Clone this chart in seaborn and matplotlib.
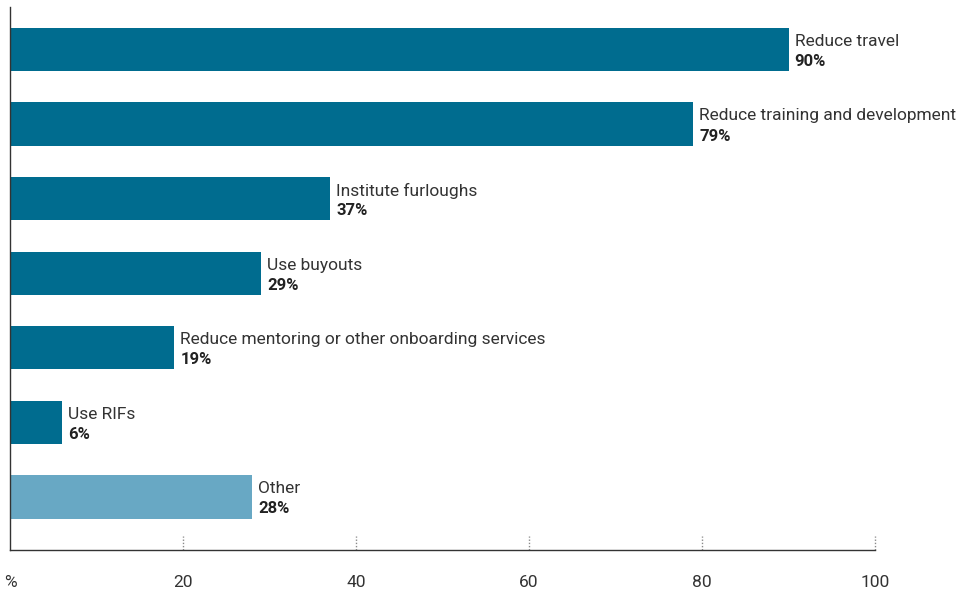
import matplotlib
matplotlib.use("Agg")
import matplotlib.pyplot as plt
import matplotlib.transforms as mtransforms
import seaborn as sns
import pandas as pd

categories = [
    "Reduce travel",
    "Reduce training and development",
    "Institute furloughs",
    "Use buyouts",
    "Reduce mentoring or other onboarding services",
    "Use RIFs",
    "Other",
]
values = [90, 79, 37, 29, 19, 6, 28]
tick_values = [0, 20, 40, 60, 80, 100]
tick_labels = ["%", "20", "40", "60", "80", "100"]

dark = "#006C8F"
light = "#68A8C4"
colors = [dark] * 6 + [light]

sns.set_theme(style="white")
plt.rcParams["font.family"] = ["Roboto", "DejaVu Sans"]

df = pd.DataFrame({"category": categories, "value": values})

fig = plt.figure(figsize=(9.64, 5.95), dpi=100)
ax = fig.add_axes([10 / 964, 1 - 550 / 595, 865 / 964, 543 / 595])

sns.barplot(
    data=df, x="value", y="category", hue="category", palette=colors,
    orient="h", width=0.58, legend=False, ax=ax, saturation=1,
    linewidth=0, edgecolor="none",
)

ax.set_xlim(0, 100)
ax.set_ylim(6.71, -0.57)
ax.set_xlabel("")
ax.set_ylabel("")
ax.set_yticks([])

ax.set_xticks(tick_values)
ax.set_xticklabels(tick_labels, fontsize=12.5, color="#333333")
ax.tick_params(axis="x", length=0, pad=18, bottom=True)

# short dotted tick marks rising from the baseline
trans = mtransforms.blended_transform_factory(ax.transData, ax.transAxes)
ax.vlines(tick_values[1:], 0, 14 / 543, transform=trans, colors="#8a8a8a",
          linewidth=1.0, linestyles=(0, (1, 1.3)), clip_on=False)

for side in ("top", "right"):
    ax.spines[side].set_visible(False)
for side in ("left", "bottom"):
    ax.spines[side].set_color("#333333")
    ax.spines[side].set_linewidth(1.0)

# category names and percentages beside each bar
for i, (name, val) in enumerate(zip(categories, values)):
    ax.text(val + 0.7, i - 0.11, name, ha="left", va="center",
            fontsize=12.5, color="#333333", clip_on=False)
    ax.text(val + 0.7, i + 0.16, f"{val}%", ha="left", va="center",
            fontsize=12, fontweight="bold", color="#222222", clip_on=False)

fig.savefig("out.png", dpi=100)
